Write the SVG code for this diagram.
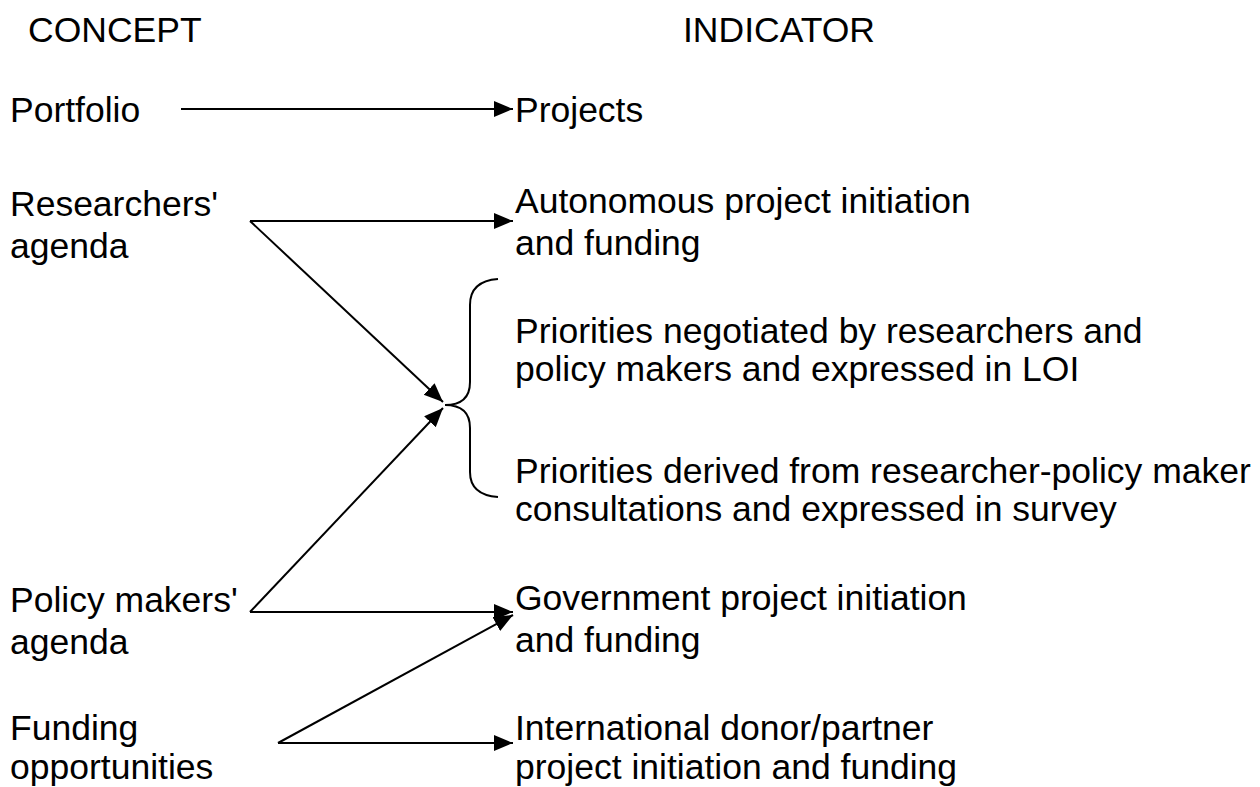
<svg xmlns="http://www.w3.org/2000/svg" width="1260" height="787" viewBox="0 0 1260 787">
<style>
text{font-family:"Liberation Sans",Arial,sans-serif;font-size:35.5px;fill:#000}
.c{stroke:#000;stroke-width:2;fill:none}
</style>
<defs>
<marker id="ah" markerUnits="userSpaceOnUse" markerWidth="20" markerHeight="18" refX="19" refY="8" orient="auto">
<path d="M0,0 L19,8 L0,16 Z" fill="#000"/>
</marker>
</defs>
<rect width="1260" height="787" fill="#fff"/>
<g id="headers">
<text x="28" y="42">CONCEPT</text>
<text x="683" y="42">INDICATOR</text>
</g>
<g id="portfolio"><text x="10" y="122">Portfolio</text></g>
<g id="projects"><text x="515" y="122">Projects</text></g>
<g id="researchers"><text x="10" y="216">Researchers'</text><text x="10" y="258">agenda</text></g>
<g id="autonomous"><text x="515" y="213">Autonomous project initiation</text><text x="515" y="255">and funding</text></g>
<g id="negotiated"><text x="515" y="343">Priorities negotiated by researchers and</text><text x="515" y="381">policy makers and expressed in LOI</text></g>
<g id="derived"><text x="515" y="483">Priorities derived from researcher-policy maker</text><text x="515" y="521">consultations and expressed in survey</text></g>
<g id="policy"><text x="10" y="612">Policy makers'</text><text x="10" y="654">agenda</text></g>
<g id="government"><text x="515" y="610">Government project initiation</text><text x="515" y="652">and funding</text></g>
<g id="funding"><text x="10" y="740">Funding</text><text x="10" y="779">opportunities</text></g>
<g id="international"><text x="515" y="740">International donor/partner</text><text x="515" y="779">project initiation and funding</text></g>
<g id="brace"><path class="c" d="M498,279 Q470,281 470,305 L470,382 Q470,405 445,405 Q470,405 470,428 L470,472 Q470,495 498,497"/></g>
<g id="connectors">
<line class="c" x1="181" y1="109" x2="513" y2="109" marker-end="url(#ah)"/>
<line class="c" x1="250" y1="221" x2="513" y2="221" marker-end="url(#ah)"/>
<line class="c" x1="250" y1="221" x2="443" y2="402" marker-end="url(#ah)"/>
<line class="c" x1="250" y1="612" x2="443" y2="408" marker-end="url(#ah)"/>
<line class="c" x1="250" y1="612" x2="513" y2="612" marker-end="url(#ah)"/>
<line class="c" x1="278" y1="743" x2="513" y2="615" marker-end="url(#ah)"/>
<line class="c" x1="278" y1="743" x2="513" y2="743" marker-end="url(#ah)"/>
</g>
</svg>
